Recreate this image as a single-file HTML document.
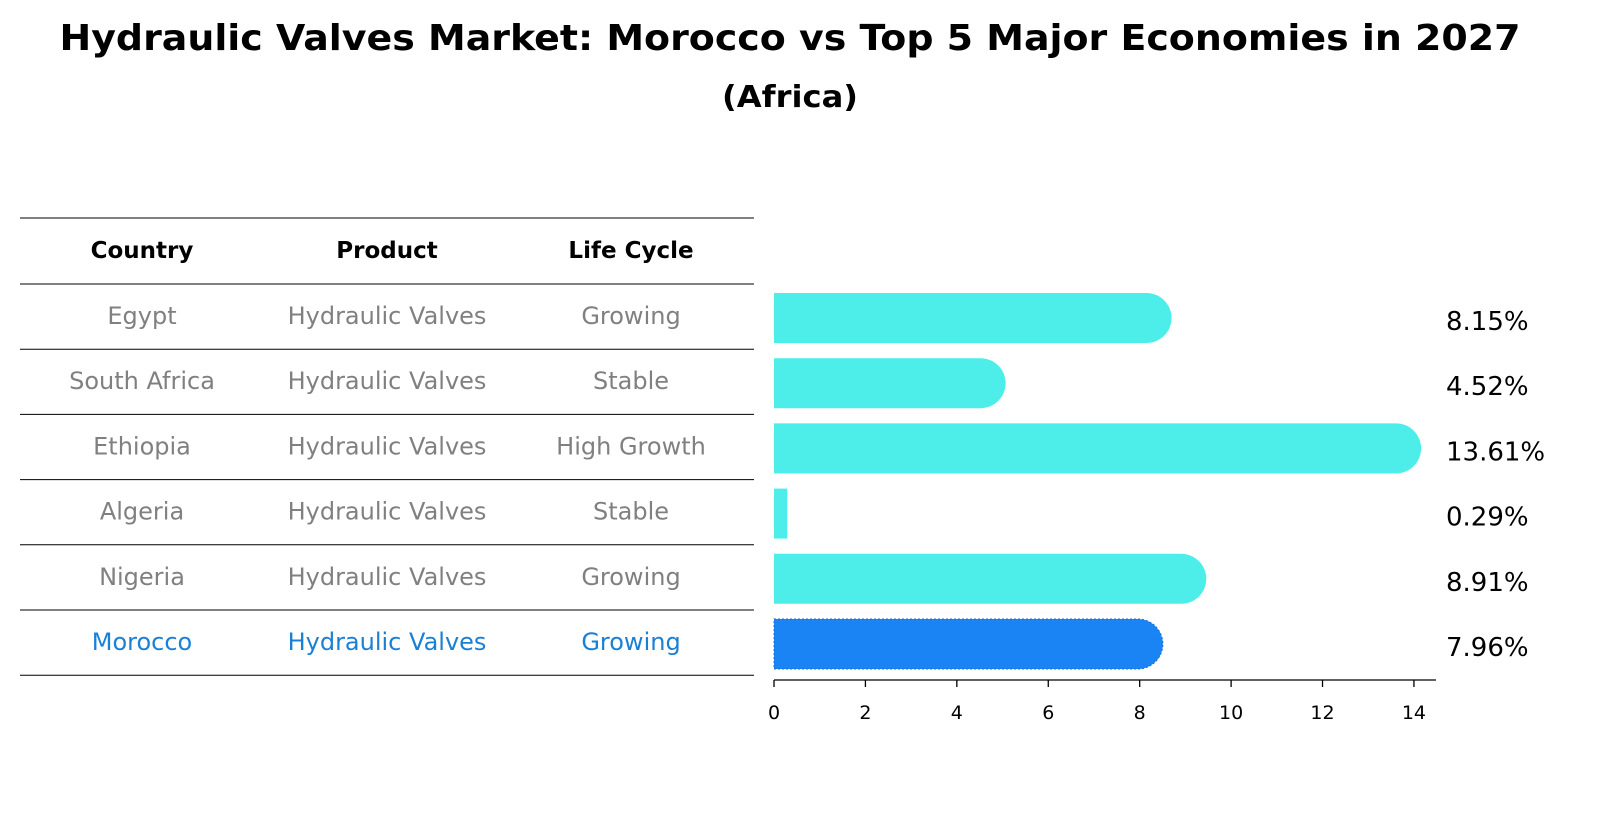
<!DOCTYPE html>
<html><head><meta charset="utf-8"><style>
body{margin:0;background:#fff;font-family:"Liberation Sans","DejaVu Sans",sans-serif}
</style></head><body>
<svg width="1604" height="823" style="font-family:'DejaVu Sans','Liberation Sans',sans-serif">
<text x="790" y="50" text-anchor="middle" font-size="36" font-weight="bold" textLength="1461" lengthAdjust="spacingAndGlyphs">Hydraulic Valves Market: Morocco vs Top 5 Major Economies in 2027</text>
<text x="790" y="107" text-anchor="middle" font-size="30" font-weight="bold" textLength="136" lengthAdjust="spacingAndGlyphs">(Africa)</text>
<g id="table"></g>
<g id="bars"></g>
</svg>
<script>
const countries=["Egypt","South Africa","Ethiopia","Algeria","Nigeria","Morocco"];
const products=["Hydraulic Valves","Hydraulic Valves","Hydraulic Valves","Hydraulic Valves","Hydraulic Valves","Hydraulic Valves"];
const lifeCycles=["Growing","Stable","High Growth","Stable","Growing","Growing"];
const values=[8.15,4.52,13.61,0.29,8.91,7.96];
const ticks=[0,2,4,6,8,10,12,14];
const NS="http://www.w3.org/2000/svg";
function mk(p,tag,a,txt){const e=document.createElementNS(NS,tag);for(const k in a)e.setAttribute(k,a[k]);if(txt!==undefined)e.textContent=txt;p.appendChild(e);return e;}
const tb=document.getElementById('table'),bg=document.getElementById('bars');
const x=v=>774+v*45.71;
const rowTop=i=>284+i*65.2;
const cols=[142,387,631];
const lines=[218,284];for(let i=1;i<=6;i++)lines.push(284+i*65.2);
lines.forEach(y=>{const l=mk(tb,'line',{x1:20,x2:754,y1:y,y2:y,stroke:'#000','stroke-width':1});});
["Country","Product","Life Cycle"].forEach((h,j)=>{const t=mk(tb,'text',{x:cols[j],y:258,'text-anchor':'middle','font-size':23,'font-weight':'bold'},h);});
countries.forEach((c,i)=>{const col=i===5?'#1a80d6':'#808080';const y=rowTop(i)+40;
[c,products[i],lifeCycles[i]].forEach((s,j)=>{const t=mk(tb,'text',{x:cols[j],y:y,'text-anchor':'middle','font-size':24,fill:col},s);});});
const h=50;
values.forEach((v,i)=>{const cy=rowTop(i)+34,fill=i===5?'#1a84f5':'#4deeea';
const w=x(v)-x(0);const g=mk(bg,'g',{});
if(w>h/2){mk(g,'path',{d:`M${x(0)},${cy-h/2} H${x(v)} A${h/2},${h/2} 0 0 1 ${x(v)},${cy+h/2} H${x(0)} Z`,fill:fill,stroke:i===5?'#1a6fd0':'none','stroke-dasharray':'2,2'});}
else mk(g,'rect',{x:x(0),y:cy-h/2,width:w,height:h,fill:fill});
const t=mk(bg,'text',{x:1446,y:cy+12,'font-size':26},v.toFixed(2)+'%');});
const ax=mk(bg,'line',{x1:774,x2:1436,y1:680,y2:680,stroke:'#000','stroke-width':1.3});
ticks.forEach(t=>{mk(bg,'line',{x1:x(t),x2:x(t),y1:680,y2:687,stroke:'#000','stroke-width':1.3});const l=mk(bg,'text',{x:x(t),y:719,'text-anchor':'middle','font-size':19},t);});
</script>
</body></html>
